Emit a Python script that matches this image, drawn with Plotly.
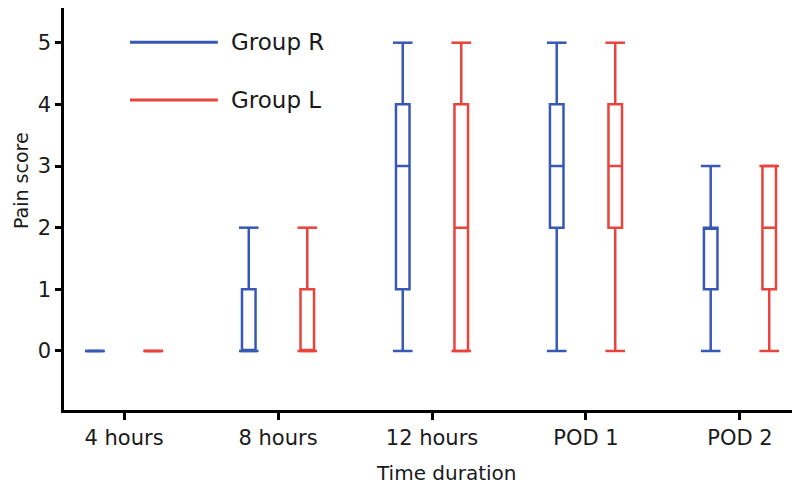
import numpy as np
import plotly.graph_objects as go

categories = ["4 hours", "8 hours", "12 hours", "POD 1", "POD 2"]

r_min = [0, 0, 0, 0, 0]
r_q1 = [0, 0, 1, 2, 1]
r_med = [0, 0, 3, 3, 2]
r_q3 = [0, 1, 4, 4, 2]
r_max = [0, 2, 5, 5, 3]

l_min = [0, 0, 0, 0, 0]
l_q1 = [0, 0, 0, 2, 1]
l_med = [0, 0, 2, 3, 2]
l_q3 = [0, 1, 4, 4, 3]
l_max = [0, 2, 5, 5, 3]

BLUE = "#3759b5"
RED = "#e8433d"
TEXT = "#1a1a1a"
idx = np.arange(len(categories))
OFF = 0.19

fig = go.Figure()


def add_group(pos, q1, med, q3, lo, hi, color, name):
    fig.add_trace(go.Box(
        x=pos, q1=q1, median=med, q3=q3, lowerfence=lo, upperfence=hi,
        width=0.088, line=dict(color=color, width=2.5), fillcolor="rgba(255,255,255,0)",
        whiskerwidth=0, name=name, showlegend=False, hoverinfo="skip",
    ))
    fig.add_trace(go.Scatter(
        x=np.concatenate([pos, pos]), y=list(lo) + list(hi), mode="markers",
        marker=dict(symbol="line-ew", size=14, line=dict(color=color, width=2.5)),
        showlegend=False, hoverinfo="skip",
    ))


add_group(idx - OFF, r_q1, r_med, r_q3, r_min, r_max, BLUE, "Group R")
add_group(idx + OFF, l_q1, l_med, l_q3, l_min, l_max, RED, "Group L")

# legend drawn manually
for yy, col, txt in [(0.915, BLUE, "Group R"), (0.771, RED, "Group L")]:
    fig.add_shape(type="line", xref="paper", yref="paper", x0=0.0897, x1=0.209,
                  y0=yy, y1=yy, line=dict(color=col, width=3))
    fig.add_annotation(xref="paper", yref="paper", x=0.224, y=yy, text=txt,
                       showarrow=False, xanchor="left", yanchor="middle",
                       font=dict(size=23, color=TEXT))

# axis titles
fig.add_annotation(xref="paper", yref="paper", x=0.519, y=-0.123, text="Time duration",
                   showarrow=False, xanchor="center", yanchor="top",
                   font=dict(size=20, color=TEXT))
fig.add_annotation(xref="paper", yref="paper", x=-0.0585, y=0.572, text="Pain score",
                   showarrow=False, xanchor="center", yanchor="middle", textangle=-90,
                   font=dict(size=19, color=TEXT))

fig.update_layout(
    width=792, height=482,
    margin=dict(l=56, r=0, t=0, b=80),
    plot_bgcolor="white", paper_bgcolor="white",
    font=dict(family="DejaVu Sans", size=21, color=TEXT),
    boxmode="overlay",
    xaxis=dict(
        range=[-0.39, 4.39], tickvals=idx, ticktext=categories, automargin=False,
        showline=True, linecolor="black", linewidth=2.5, ticks="outside",
        ticklen=7, tickwidth=2.5, tickcolor="black", showgrid=False, zeroline=False,
    ),
    yaxis=dict(
        range=[-0.957, 5.563], tickvals=[0, 1, 2, 3, 4, 5], automargin=False,
        showline=True, linecolor="black", linewidth=2.5, ticks="outside",
        ticklen=6, tickwidth=2.5, tickcolor="black", showgrid=False, zeroline=False,
    ),
)

fig.write_html("out.html")
